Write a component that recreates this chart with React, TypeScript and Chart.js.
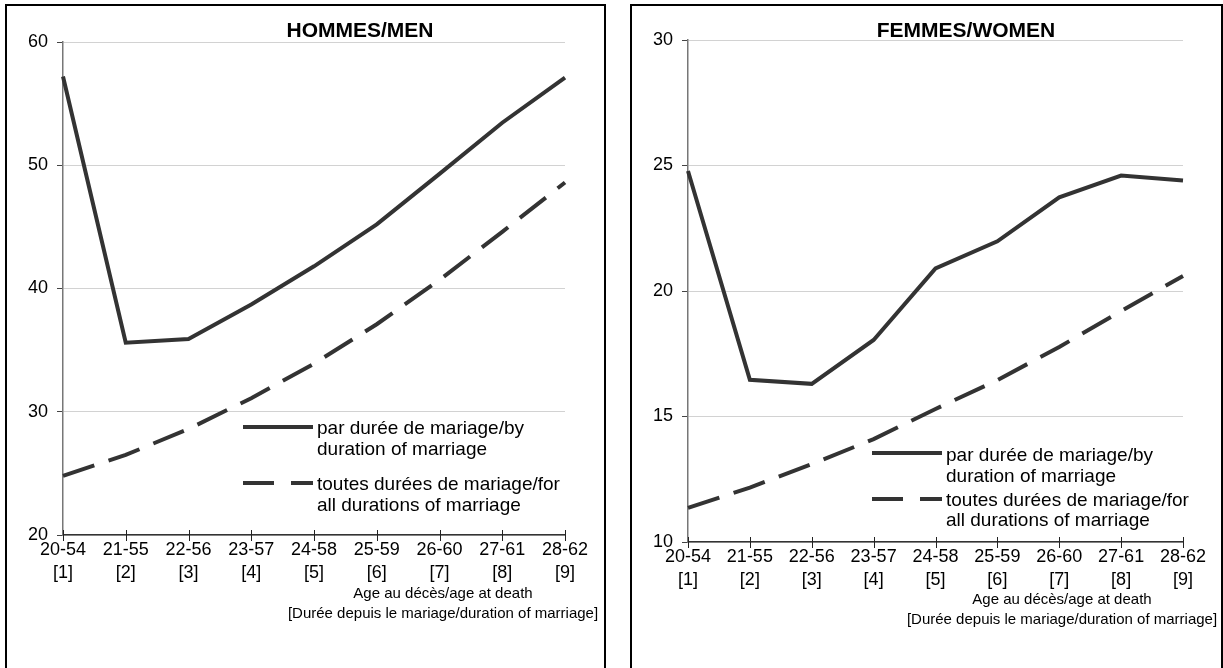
import React, { useEffect, useRef } from 'react';
import { Chart, registerables } from 'chart.js';

Chart.register(...registerables);

// ---------- data ----------
const categories: string[][] = [
  ['20-54', '[1]'],
  ['21-55', '[2]'],
  ['22-56', '[3]'],
  ['23-57', '[4]'],
  ['24-58', '[5]'],
  ['25-59', '[6]'],
  ['26-60', '[7]'],
  ['27-61', '[8]'],
  ['28-62', '[9]'],
];

const menByDuration = [57.2, 35.6, 35.9, 38.7, 41.8, 45.2, 49.3, 53.45, 57.1];
const menAllDurations = [24.8, 26.5, 28.6, 31.1, 33.9, 37.1, 40.7, 44.6, 48.6];

const womenByDuration = [24.78, 16.46, 16.3, 18.05, 20.9, 21.98, 23.73, 24.6, 24.4];
const womenAllDurations = [11.36, 12.17, 13.1, 14.1, 15.3, 16.45, 17.77, 19.2, 20.6];

const menTitle = 'HOMMES/MEN';
const womenTitle = 'FEMMES/WOMEN';

const legendByDuration = ['par durée de mariage/by', 'duration of marriage'];
const legendAllDurations = ['toutes durées de mariage/for', 'all durations of marriage'];

const xTitleLines = ['Age au décès/age at death', '[Durée depuis le mariage/duration of marriage]'];

const FONT = "'Liberation Sans', Arial, Helvetica, sans-serif";
const LINE_COLOR = '#333333';
const DASH = [33, 15];
const XH = 100;

type PanelProps = {
  left: number;
  top: number;
  width: number;
  height: number;
  area: { left: number; top: number; right: number; bottom: number };
  yMin: number;
  yMax: number;
  yStep: number;
  solid: number[];
  dashed: number[];
  title: string;
  titlePos: [number, number];
  legend: { lineX0: number; lineX1: number; textX: number; solidY: number; solidText: [number, number]; dashY: number; dashText: [number, number] };
  xTitle: { cx: number; y1: number; y2: number };
};

function Panel(p: PanelProps) {
  const ref = useRef<HTMLCanvasElement | null>(null);
  const cw = p.width - 4;
  const ch = p.height;

  useEffect(() => {
    if (!ref.current) return;
    const overlay = {
      id: 'overlay',
      afterDraw(chart: any) {
        const ctx = chart.ctx;
        const xs = chart.scales.x;
        const ca = chart.chartArea;
        ctx.save();
        // crossing x tick marks
        ctx.strokeStyle = '#222';
        ctx.lineWidth = 1;
        for (let i = 0; i < categories.length; i++) {
          const x = Math.round(xs.getPixelForValue(i)) + 0.5;
          ctx.beginPath();
          ctx.moveTo(x, ca.bottom - 5);
          ctx.lineTo(x, ca.bottom + 6);
          ctx.stroke();
        }
        // title
        ctx.fillStyle = '#000';
        ctx.font = `bold 21px ${FONT}`;
        ctx.textAlign = 'center';
        ctx.textBaseline = 'middle';
        ctx.fillText(p.title, p.titlePos[0], p.titlePos[1]);
        // legend
        const L = p.legend;
        ctx.strokeStyle = LINE_COLOR;
        ctx.lineWidth = 4;
        ctx.setLineDash([]);
        ctx.beginPath();
        ctx.moveTo(L.lineX0, L.solidY);
        ctx.lineTo(L.lineX1, L.solidY);
        ctx.stroke();
        ctx.setLineDash([31, 17]);
        ctx.beginPath();
        ctx.moveTo(L.lineX0, L.dashY);
        ctx.lineTo(L.lineX1, L.dashY);
        ctx.stroke();
        ctx.setLineDash([]);
        ctx.font = `19px ${FONT}`;
        ctx.textAlign = 'left';
        ctx.fillStyle = '#000';
        ctx.fillText(legendByDuration[0], L.textX, L.solidText[0]);
        ctx.fillText(legendByDuration[1], L.textX, L.solidText[1]);
        ctx.fillText(legendAllDurations[0], L.textX, L.dashText[0]);
        ctx.fillText(legendAllDurations[1], L.textX, L.dashText[1]);
        // x axis title
        ctx.font = `15px ${FONT}`;
        ctx.textAlign = 'center';
        ctx.fillText(xTitleLines[0], p.xTitle.cx, p.xTitle.y1);
        ctx.fillText(xTitleLines[1], p.xTitle.cx, p.xTitle.y2);
        ctx.restore();
      },
    };

    const chart = new Chart(ref.current, {
      type: 'line',
      data: {
        labels: categories,
        datasets: [
          {
            label: legendByDuration.join(' '),
            data: p.solid,
            borderColor: LINE_COLOR,
            borderWidth: 4,
            pointRadius: 0,
            tension: 0,
            fill: false,
          },
          {
            label: legendAllDurations.join(' '),
            data: p.dashed,
            borderColor: LINE_COLOR,
            borderWidth: 4,
            borderDash: DASH,
            pointRadius: 0,
            tension: 0,
            fill: false,
          },
        ],
      },
      options: {
        animation: false,
        responsive: false,
        devicePixelRatio: 1,
        layout: {
          padding: {
            left: 0,
            top: p.area.top,
            right: cw - p.area.right,
            bottom: ch - p.area.bottom - XH,
          },
        },
        plugins: {
          legend: { display: false },
          title: { display: false },
          tooltip: { enabled: false },
        },
        scales: {
          x: {
            type: 'category',
            offset: false,
            afterFit: (s: any) => {
              s.height = XH;
            },
            grid: { display: true, drawOnChartArea: false, drawTicks: false },
            border: { display: true, color: '#333', width: 1.5 },
            ticks: {
              color: '#000',
              font: { family: FONT, size: 18, lineHeight: 1.25 },
              padding: 4,
              maxRotation: 0,
              autoSkip: false,
            },
          },
          y: {
            min: p.yMin,
            max: p.yMax,
            afterFit: (s: any) => {
              s.width = p.area.left;
            },
            grid: { color: '#d2d2d2', lineWidth: 1, tickColor: '#444', tickLength: 6, drawTicks: true },
            border: { display: true, color: '#777', width: 1.5 },
            ticks: {
              stepSize: p.yStep,
              color: '#000',
              padding: 9,
              font: { family: FONT, size: 18 },
            },
          },
        },
      },
      plugins: [overlay],
    } as any);
    return () => chart.destroy();
  }, []);

  return (
    <div
      style={{
        position: 'absolute',
        left: p.left,
        top: p.top,
        width: p.width - 4,
        height: p.height,
        border: '2px solid #000',
        background: '#fff',
      }}
    >
      <canvas ref={ref} width={cw} height={ch} style={{ display: 'block', width: cw, height: ch }} />
    </div>
  );
}

export default function App() {
  return (
    <div style={{ position: 'relative', width: 1223, height: 668, background: '#fff' }}>
      <div style={{ position: 'fixed', left: 0, top: 0, width: 1223, height: 668, overflow: 'hidden', background: '#fff' }}>
        <Panel
          left={5}
          top={4}
          width={601}
          height={700}
          area={{ left: 56, top: 36, right: 558, bottom: 529 }}
          yMin={20}
          yMax={60}
          yStep={10}
          solid={menByDuration}
          dashed={menAllDurations}
          title={menTitle}
          titlePos={[353, 25]}
          legend={{ lineX0: 236, lineX1: 306, textX: 310, solidY: 421, solidText: [423, 444], dashY: 477, dashText: [479, 500] }}
          xTitle={{ cx: 436, y1: 588, y2: 608 }}
        />
        <Panel
          left={630}
          top={4}
          width={593}
          height={700}
          area={{ left: 56, top: 34, right: 551, bottom: 536 }}
          yMin={10}
          yMax={30}
          yStep={5}
          solid={womenByDuration}
          dashed={womenAllDurations}
          title={womenTitle}
          titlePos={[334, 25]}
          legend={{ lineX0: 240, lineX1: 310, textX: 314, solidY: 447, solidText: [450, 471], dashY: 493, dashText: [495, 515] }}
          xTitle={{ cx: 430, y1: 594, y2: 614 }}
        />
      </div>
    </div>
  );
}
